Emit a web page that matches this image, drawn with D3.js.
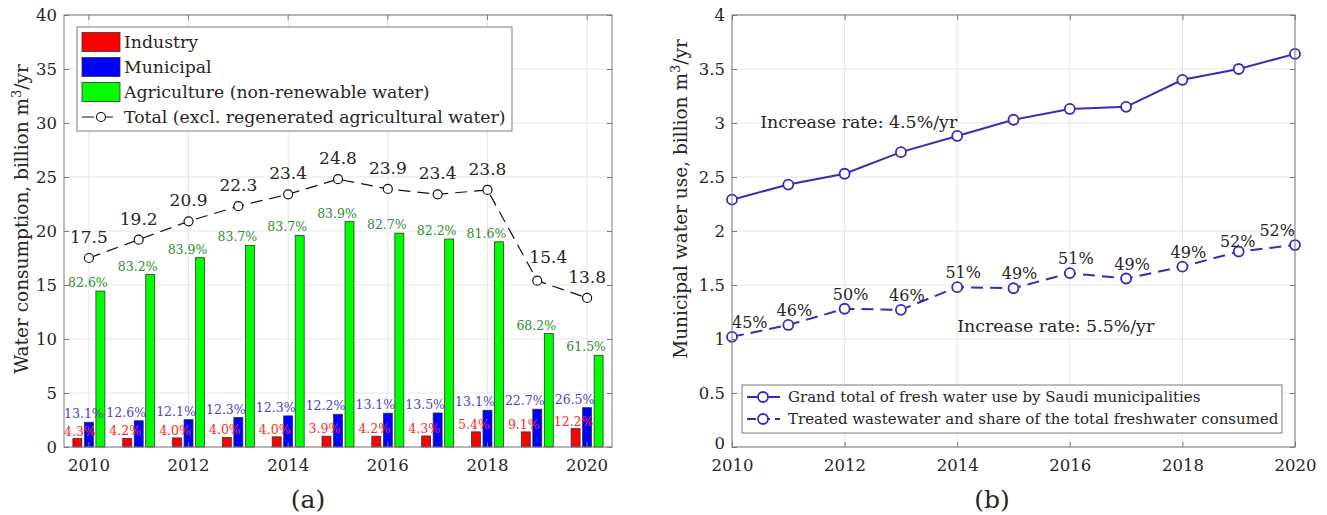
<!doctype html>
<html>
<head>
<meta charset="utf-8">
<title>Water consumption</title>
<script src="https://cdn.jsdelivr.net/npm/d3@7"></script>
<style>
 body { margin: 0; background: #fff; }
 text { font-family: "DejaVu Serif", serif; fill: #262626; }
</style>
</head>
<body>
<script>
// ---- data (a) ----
var years = [2010, 2011, 2012, 2013, 2014, 2015, 2016, 2017, 2018, 2019, 2020];
var industry = [0.78, 0.80, 0.84, 0.89, 0.94, 1.00, 1.00, 1.02, 1.40, 1.40, 1.70];
var municipal = [2.29, 2.43, 2.53, 2.73, 2.88, 3.03, 3.13, 3.15, 3.40, 3.50, 3.64];
var agriculture = [14.44, 15.97, 17.53, 18.67, 19.59, 20.86, 19.80, 19.26, 19.00, 10.50, 8.49];
var total = [17.5, 19.2, 20.9, 22.3, 23.4, 24.8, 23.9, 23.4, 23.8, 15.4, 13.8];
var industryPct = ["4.3%", "4.2%", "4.0%", "4.0%", "4.0%", "3.9%", "4.2%", "4.3%", "5.4%", "9.1%", "12.2%"];
var municipalPct = ["13.1%", "12.6%", "12.1%", "12.3%", "12.3%", "12.2%", "13.1%", "13.5%", "13.1%", "22.7%", "26.5%"];
var agriculturePct = ["82.6%", "83.2%", "83.9%", "83.7%", "83.7%", "83.9%", "82.7%", "82.2%", "81.6%", "68.2%", "61.5%"];
var yTicksA = [0, 5, 10, 15, 20, 25, 30, 35, 40];
var xTicks = [2010, 2012, 2014, 2016, 2018, 2020];

// ---- data (b) ----
var freshTotal = [2.29, 2.43, 2.53, 2.73, 2.88, 3.03, 3.13, 3.15, 3.40, 3.50, 3.64];
var treated = [1.02, 1.13, 1.28, 1.27, 1.48, 1.47, 1.61, 1.56, 1.67, 1.81, 1.87];
var treatedShare = ["45%", "46%", "50%", "46%", "51%", "49%", "51%", "49%", "49%", "52%", "52%"];
var yTicksB = [0, 0.5, 1, 1.5, 2, 2.5, 3, 3.5, 4];

var W = 1327, H = 515;
var gridCol = "#e6e6e6", boxCol = "#7a7a7a";
var lineCol = "#3a2bb4";

var svg = d3.select("body").append("svg")
    .attr("width", W).attr("height", H);

// light grid at the tick positions
function frame(g, x, y, xt, yt, x0, x1, y0, y1) {
    var grid = g.append("g");
    grid.selectAll(".gy").data(yt).enter().append("line")
        .attr("x1", x0).attr("x2", x1)
        .attr("y1", function(d){ return y(d); }).attr("y2", function(d){ return y(d); })
        .attr("stroke", gridCol);
    grid.selectAll(".gx").data(xt).enter().append("line")
        .attr("y1", y0).attr("y2", y1)
        .attr("x1", function(d){ return x(d); }).attr("x2", function(d){ return x(d); })
        .attr("stroke", gridCol);
    return grid;
}

// box with inward ticks on all four sides
function axes(g, x, y, xt, yt, fmtX, fmtY, x0, x1, y0, y1, liftZero) {
    var ax = g.append("g");
    ax.append("g").attr("transform", "translate(0," + y1 + ")")
        .call(d3.axisBottom(x).tickValues(xt).tickFormat(fmtX).tickSizeInner(-5).tickSizeOuter(0).tickPadding(12));
    ax.append("g").attr("transform", "translate(0," + y0 + ")")
        .call(d3.axisTop(x).tickValues(xt).tickFormat("").tickSizeInner(-5).tickSizeOuter(0));
    var yl = ax.append("g").attr("transform", "translate(" + x0 + ",0)")
        .call(d3.axisLeft(y).tickValues(yt).tickFormat(fmtY).tickSizeInner(-5).tickSizeOuter(0).tickPadding(7));
    ax.append("g").attr("transform", "translate(" + x1 + ",0)")
        .call(d3.axisRight(y).tickValues(yt).tickFormat("").tickSizeInner(-5).tickSizeOuter(0));
    ax.selectAll(".domain").remove();
    ax.selectAll(".tick line").attr("stroke", boxCol);
    ax.selectAll(".tick text").attr("font-size", 16.5).attr("fill", "#262626")
        .style("font-family", "DejaVu Serif");
    if (liftZero) {
        yl.selectAll(".tick text").filter(function(d){ return d === 0; }).attr("y", -4);
    }
    g.append("rect").attr("x", x0).attr("y", y0)
        .attr("width", x1 - x0).attr("height", y1 - y0)
        .attr("fill", "none").attr("stroke", boxCol);
}

// label centred on cx, but kept inside [lo, hi]
function clampText(sel, cx, lo, hi) {
    sel.each(function(d, i){
        var w = this.getComputedTextLength();
        var c = cx(d, i);
        if (c - w / 2 < lo) c = lo + w / 2;
        if (c + w / 2 > hi) c = hi - w / 2;
        d3.select(this).attr("x", c);
    });
}

// ================= panel (a) =================
var A = {x0: 64, x1: 612, y0: 15, y1: 447};
var gA = svg.append("g");

var xA = d3.scaleBand().domain(years).range([A.x0, A.x1])
    .paddingInner(0.307).paddingOuter(0.153);
var xIn = d3.scaleBand().domain(["ind", "mun", "agr"]).range([0, xA.bandwidth()])
    .paddingInner(0.22).paddingOuter(0.11);
var yA = d3.scaleLinear().domain([0, 40]).range([A.y1, A.y0]);
var cA = function(yr){ return xA(yr) + xA.bandwidth() / 2; };

frame(gA, cA, yA, xTicks, yTicksA, A.x0, A.x1, A.y0, A.y1);

var series = [
    {key: "ind", vals: industry, fill: "#ff0000"},
    {key: "mun", vals: municipal, fill: "#0000ff"},
    {key: "agr", vals: agriculture, fill: "#00ff00"}
];

series.forEach(function(s){
    gA.append("g").selectAll("rect").data(s.vals).enter().append("rect")
        .attr("x", function(d, i){ return xA(years[i]) + xIn(s.key); })
        .attr("width", xIn.bandwidth())
        .attr("y", function(d){ return yA(d); })
        .attr("height", function(d){ return yA(0) - yA(d); })
        .attr("fill", s.fill)
        .attr("stroke", "#333").attr("stroke-width", 0.8);
});

// percent labels
var redC = function(d, i){ return xA(years[i]) + xIn("ind") + xIn.bandwidth() / 2 - 2; };
gA.append("g").selectAll("text").data(industry).enter().append("text")
    .attr("y", function(d){ return yA(d) - 3; })
    .attr("text-anchor", "middle").attr("font-size", 12.5)
    .style("fill", "#ff2a2a")
    .text(function(d, i){ return industryPct[i]; })
    .call(clampText, redC, A.x0, A.x1);
gA.append("g").selectAll("text").data(municipal).enter().append("text")
    .attr("y", function(d){ return yA(d) - 4; })
    .attr("text-anchor", "middle").attr("font-size", 12.5)
    .style("fill", "#4a3fc8")
    .text(function(d, i){ return municipalPct[i]; })
    .call(clampText, function(d, i){ return redC(d, i) + 1; }, A.x0, A.x1);
gA.append("g").selectAll("text").data(agriculture).enter().append("text")
    .attr("y", function(d){ return yA(d) - 4; })
    .attr("text-anchor", "middle").attr("font-size", 12.5)
    .style("fill", "#2e8b2e")
    .text(function(d, i){ return agriculturePct[i]; })
    .call(clampText, function(d, i){ return cA(years[i]) - 1; }, A.x0, A.x1);

// total line
var lineA = d3.line()
    .x(function(d, i){ return cA(years[i]); })
    .y(function(d){ return yA(d); });
gA.append("path").datum(total).attr("d", lineA)
    .attr("fill", "none").attr("stroke", "#111").attr("stroke-width", 1.2)
    .attr("stroke-dasharray", "12,7");
gA.append("g").selectAll("circle").data(total).enter().append("circle")
    .attr("cx", function(d, i){ return cA(years[i]); })
    .attr("cy", function(d){ return yA(d); })
    .attr("r", 4.5).attr("fill", "#fff").attr("stroke", "#111").attr("stroke-width", 1.2);
gA.append("g").selectAll("text").data(total).enter().append("text")
    .attr("x", function(d, i){
        var drop = i > 0 && total[i - 1] - d > 5;
        return cA(years[i]) + (drop ? 11 : 0);
    })
    .attr("y", function(d, i){
        var drop = i > 0 && total[i - 1] - d > 5;
        return yA(d) - (drop ? 18 : 15);
    })
    .attr("text-anchor", "middle").attr("font-size", 17)
    .text(function(d){ return d.toFixed(1); });

axes(gA, xA, yA, xTicks, yTicksA, d3.format("d"), d3.format("d"), A.x0, A.x1, A.y0, A.y1, false);

// legend (a)
var legA = gA.append("g");
legA.append("rect").attr("x", 77).attr("y", 27).attr("width", 435).attr("height", 104)
    .attr("fill", "#fff").attr("stroke", boxCol);
var legItems = ["Industry", "Municipal", "Agriculture (non-renewable water)", "Total (excl. regenerated agricultural water)"];
legItems.forEach(function(name, i){
    var cy = 42 + i * 25;
    if (i < 3) {
        legA.append("rect").attr("x", 82).attr("y", cy - 9.5).attr("width", 38).attr("height", 19)
            .attr("fill", series[i].fill).attr("stroke", "#333").attr("stroke-width", 0.8);
    } else {
        legA.append("line").attr("x1", 82).attr("x2", 120).attr("y1", cy).attr("y2", cy)
            .attr("stroke", "#111").attr("stroke-width", 1.2).attr("stroke-dasharray", "12,7");
        legA.append("circle").attr("cx", 101).attr("cy", cy).attr("r", 4.5)
            .attr("fill", "#fff").attr("stroke", "#111").attr("stroke-width", 1.2);
    }
    legA.append("text").attr("x", 124).attr("y", cy).attr("dy", "0.35em")
        .attr("font-size", 17.3).text(name);
});

// y label (a)
var ylA = gA.append("text").attr("transform", "translate(28,219) rotate(-90)")
    .attr("text-anchor", "middle").attr("font-size", 18.5);
ylA.append("tspan").text("Water consumption, billion m");
ylA.append("tspan").attr("dy", -7).attr("font-size", 13).text("3");
ylA.append("tspan").attr("dy", 7).text("/yr");

gA.append("text").attr("x", 308).attr("y", 508).attr("text-anchor", "middle")
    .attr("font-size", 25).text("(a)");

// ================= panel (b) =================
var B = {x0: 732, x1: 1295, y0: 15, y1: 447};
var gB = svg.append("g");
var xB = d3.scaleLinear().domain([2010, 2020]).range([B.x0, B.x1]);
var yB = d3.scaleLinear().domain([0, 4]).range([B.y1, B.y0]);

frame(gB, xB, yB, xTicks, yTicksB, B.x0, B.x1, B.y0, B.y1);

var lineB = d3.line()
    .x(function(d, i){ return xB(years[i]); })
    .y(function(d){ return yB(d); });

gB.append("path").datum(freshTotal).attr("d", lineB)
    .attr("fill", "none").attr("stroke", lineCol).attr("stroke-width", 2);
gB.append("path").datum(treated).attr("d", lineB)
    .attr("fill", "none").attr("stroke", lineCol).attr("stroke-width", 2)
    .attr("stroke-dasharray", "12,7");

[freshTotal, treated].forEach(function(s){
    gB.append("g").selectAll("circle").data(s).enter().append("circle")
        .attr("cx", function(d, i){ return xB(years[i]); })
        .attr("cy", function(d){ return yB(d); })
        .attr("r", 5).attr("fill", "#fff").attr("stroke", lineCol).attr("stroke-width", 1.8);
});

var shareLbl = gB.append("g").selectAll("text").data(treated).enter().append("text")
    .attr("y", function(d){ return yB(d) - 9; })
    .attr("text-anchor", "middle").attr("font-size", 16)
    .text(function(d, i){ return treatedShare[i]; })
    .call(clampText, function(d, i){ return xB(years[i]) + 6; }, B.x0, B.x1);

// push a label left if it runs into the next one
var nodes = shareLbl.nodes();
for (var k = nodes.length - 2; k >= 0; k--) {
    var wa = nodes[k].getComputedTextLength(), wb = nodes[k + 1].getComputedTextLength();
    var ca = +nodes[k].getAttribute("x"), cb = +nodes[k + 1].getAttribute("x");
    var gap = (cb - wb / 2) - (ca + wa / 2);
    if (gap < 4) {
        d3.select(nodes[k]).attr("x", ca - (4 - gap))
            .attr("y", +nodes[k].getAttribute("y") + 4);
    }
}

gB.append("text").attr("x", xB(2010.5)).attr("y", yB(2.95))
    .attr("font-size", 17.4).text("Increase rate: 4.5%/yr");
gB.append("text").attr("x", xB(2014)).attr("y", yB(1.065))
    .attr("font-size", 17.4).text("Increase rate: 5.5%/yr");

axes(gB, xB, yB, xTicks, yTicksB, d3.format("d"), d3.format("~g"), B.x0, B.x1, B.y0, B.y1, true);

// legend (b)
var legB = gB.append("g");
legB.append("rect").attr("x", 742).attr("y", 385).attr("width", 540).attr("height", 48)
    .attr("fill", "#fff").attr("stroke", boxCol);
["Grand total of fresh water use by Saudi municipalities",
 "Treated wastewater and share of the total freshwater consumed"].forEach(function(name, i){
    var cy = 397 + i * 22;
    var ln = legB.append("line").attr("x1", 747).attr("x2", 780).attr("y1", cy).attr("y2", cy)
        .attr("stroke", lineCol).attr("stroke-width", 2);
    if (i == 1) ln.attr("stroke-dasharray", "9,5");
    legB.append("circle").attr("cx", 763).attr("cy", cy).attr("r", 5)
        .attr("fill", "#fff").attr("stroke", lineCol).attr("stroke-width", 1.8);
    legB.append("text").attr("x", 788).attr("y", cy).attr("dy", "0.35em")
        .attr("font-size", 15).text(name);
});

var ylB = gB.append("text").attr("transform", "translate(687,199) rotate(-90)")
    .attr("text-anchor", "middle").attr("font-size", 18.5);
ylB.append("tspan").text("Municipal water use, billion m");
ylB.append("tspan").attr("dy", -7).attr("font-size", 13).text("3");
ylB.append("tspan").attr("dy", 7).text("/yr");

gB.append("text").attr("x", 992).attr("y", 508).attr("text-anchor", "middle")
    .attr("font-size", 25).text("(b)");
</script>
</body>
</html>
